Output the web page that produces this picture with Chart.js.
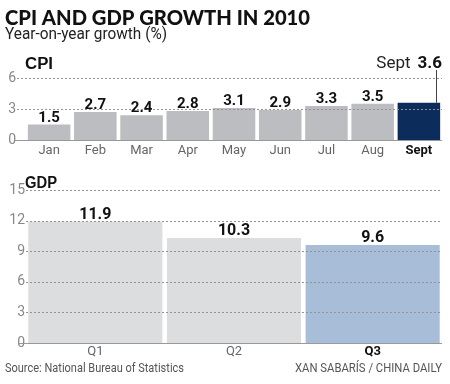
<!DOCTYPE html>
<html><head><meta charset="utf-8">
<script src="https://cdn.jsdelivr.net/npm/chart.js@4"></script>
<style>
body{margin:0;background:#fff;width:450px;height:384px;position:relative;overflow:hidden;}
canvas{position:absolute;left:0;}
</style></head><body>
<canvas id="cpi" width="450" height="164" style="top:0px"></canvas>
<canvas id="gdp" width="450" height="220" style="top:164px"></canvas>
<script>
const cpiMonths = ['Jan','Feb','Mar','Apr','May','Jun','Jul','Aug','Sept'];
const cpiValues = [1.5,2.7,2.4,2.8,3.1,2.9,3.3,3.5,3.6];
const cpiTicks = [0,3,6];
const gdpQuarters = ['Q1','Q2','Q3'];
const gdpValues = [11.9,10.3,9.6];
const gdpTicks = [0,3,6,9,12,15];

const titleText = 'CPI AND GDP GROWTH IN 2010';
const subtitleText = 'Year-on-year growth (%)';
const sourceText = 'Source: National Bureau of Statistics';
const creditText = 'XAN SABARÍS / CHINA DAILY';

const FONT = 'Roboto, sans-serif';

// free text drawn on the canvas, fitted to a target width
const texts = {
  id:'texts',
  afterDraw(chart, args, opts){
    const ctx = chart.ctx;
    (opts.items || []).forEach(it=>{
      ctx.save();
      ctx.font = it.font;
      ctx.fillStyle = it.color;
      ctx.textBaseline = 'alphabetic';
      ctx.textAlign = 'left';
      const w = ctx.measureText(it.text).width;
      const k = it.width ? it.width / w : 1;
      const left = it.right !== undefined ? it.right - w * k : it.x;
      ctx.translate(left, it.y);
      ctx.scale(k, 1);
      ctx.fillText(it.text, 0, 0);
      ctx.restore();
    });
  }
};

// grid lines from the y scale's own ticks: dashed over the bars, solid at zero
const gridLines = {
  id:'gridLines',
  afterDraw(chart, args, opts){
    const ctx = chart.ctx;
    const y = chart.scales.y;
    const right = chart.chartArea.right;
    ctx.save();
    y.ticks.forEach((t)=>{
      const py = Math.round(y.getPixelForValue(t.value)) + 0.5;
      const isZero = t.value === 0;
      ctx.beginPath();
      ctx.lineWidth = 1;
      ctx.strokeStyle = isZero ? '#999' : '#939393';
      ctx.setLineDash(isZero ? [] : [2,2]);
      ctx.moveTo(isZero ? opts.zeroStart : opts.start, py);
      ctx.lineTo(right, py);
      ctx.stroke();
    });
    ctx.restore();
  }
};

const valueLabels = {
  id:'valueLabels',
  afterDraw(chart, args, opts){
    const ctx = chart.ctx;
    const meta = chart.getDatasetMeta(0);
    ctx.save();
    ctx.font = 'bold ' + opts.size + 'px ' + FONT;
    ctx.fillStyle = '#111';
    ctx.textAlign = 'center';
    ctx.textBaseline = 'bottom';
    meta.data.forEach((bar,i)=>{
      if (opts.skip === i) return;
      const v = chart.data.datasets[0].data[i];
      ctx.fillText(v.toFixed(1), bar.x, bar.y + opts.dy);
    });
    ctx.restore();
  }
};

const septNote = {
  id:'septNote',
  afterDraw(chart){
    const ctx = chart.ctx;
    const meta = chart.getDatasetMeta(0);
    const i = cpiValues.length-1;
    const bar = meta.data[i];
    const lx = Math.round(bar.x + bar.width/2 - 4) + 0.5;
    ctx.save();
    ctx.setLineDash([]);
    ctx.strokeStyle = '#444';
    ctx.lineWidth = 1;
    ctx.beginPath();
    ctx.moveTo(lx, 70);
    ctx.lineTo(lx, bar.y);
    ctx.stroke();
    const right = chart.chartArea.right;
    ctx.textBaseline = 'alphabetic';
    ctx.textAlign = 'right';
    ctx.font = 'bold 17px ' + FONT;
    ctx.fillStyle = '#111';
    const val = cpiValues[i].toFixed(1);
    ctx.fillText(val, right, 68);
    const vw = ctx.measureText(val).width;
    ctx.font = '17px ' + FONT;
    ctx.fillStyle = '#222';
    ctx.fillText(cpiMonths[i], right - vw - 7, 68);
    ctx.restore();
  }
};

function makeChart(id, labels, values, colors, tickVals, max, cfg){
  return new Chart(document.getElementById(id), {
    type:'bar',
    data:{labels:labels, datasets:[{data:values, backgroundColor:colors,
      barPercentage:cfg.barPct, categoryPercentage:1}]},
    plugins: cfg.plugins,
    options:{
      responsive:false, animation:false,
      layout:{padding:{left:0,right:8,top:cfg.top,bottom:0}},
      plugins:{legend:{display:false}, tooltip:{enabled:false},
        texts:{items:cfg.texts},
        gridLines:{start:cfg.gridStart, zeroStart:cfg.zeroStart},
        valueLabels:{size:cfg.valSize, dy:cfg.dy, skip:cfg.skip}},
      scales:{
        x:{
          afterFit(s){ s.height = cfg.xh; },
          grid:{display:false, drawTicks:false},
          border:{display:false},
          ticks:{padding:cfg.xpad,
            color:(c)=> c.index===labels.length-1 ? '#111' : '#666',
            font:(c)=> ({family:FONT, size:13, weight: c.index===labels.length-1 ? 'bold':'normal'})}
        },
        y:{
          min:0, max:max,
          afterFit(s){ s.width = 26; },
          afterBuildTicks(s){ s.ticks = tickVals.map(v=>({value:v})); },
          border:{display:false},
          grid:{display:false, drawTicks:false},
          ticks:{padding:cfg.ypad, color:'#888', font:{family:FONT, size:14}}
        }
      }
    }
  });
}

const cpiColors = cpiValues.map((v,i)=> i===cpiValues.length-1 ? '#0c2d5b' : '#bcbdc0');
makeChart('cpi', cpiMonths, cpiValues, cpiColors, cpiTicks, 6,
  {barPct:0.92, top:78, xh:24, xpad:3, ypad:10, gridStart:17, zeroStart:15,
   valSize:15, dy:1, skip:cpiValues.length-1,
   texts:[
     {text:titleText, x:5, y:25, width:305, font:'900 21px Lato, sans-serif', color:'#111'},
     {text:subtitleText, x:5, y:39, width:162, font:'16px ' + FONT, color:'#222'},
     {text:'CPI', x:25, y:69, width:28, font:'bold 16px "Liberation Sans", sans-serif', color:'#111'}
   ],
   plugins:[gridLines, valueLabels, septNote, texts]});

const gdpColors = gdpValues.map((v,i)=> i===gdpValues.length-1 ? '#a8bdd8' : '#dcdddf');
makeChart('gdp', gdpQuarters, gdpValues, gdpColors, gdpTicks, 15,
  {barPct:0.967, top:26, xh:41, xpad:1, ypad:1, gridStart:26, zeroStart:18,
   valSize:16, dy:1, skip:-1,
   texts:[
     {text:'GDP', x:25, y:24, width:32, font:'bold 16px "Liberation Sans", sans-serif', color:'#111'},
     {text:sourceText, x:5, y:208, width:179, font:'13px ' + FONT, color:'#555'},
     {text:creditText, right:442, y:208, width:147, font:'13px ' + FONT, color:'#555'}
   ],
   plugins:[gridLines, valueLabels, texts]});
</script>
</body></html>
